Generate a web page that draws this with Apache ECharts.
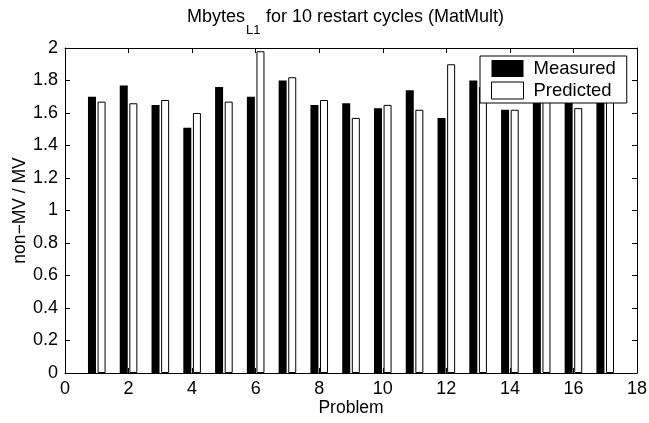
<!DOCTYPE html>
<html>
<head>
<meta charset="utf-8">
<script src="https://cdn.jsdelivr.net/npm/echarts@6/dist/echarts.min.js"></script>
<style>
  html, body { margin: 0; padding: 0; background: #fff; }
  #chart { width: 649px; height: 423px; }
</style>
</head>
<body>
<div id="chart"></div>
<script>
// values (bars 13-17 partly sit under the legend, so those are guesses)
const problems = [1, 2, 3, 4, 5, 6, 7, 8, 9, 10, 11, 12, 13, 14, 15, 16, 17];
const measured = [1.70, 1.77, 1.65, 1.51, 1.76, 1.70, 1.80, 1.65, 1.66, 1.63, 1.74, 1.57, 1.80, 1.62, 1.72, 1.78, 1.74];
const predicted = [1.67, 1.66, 1.68, 1.60, 1.67, 1.98, 1.82, 1.68, 1.57, 1.65, 1.62, 1.90, 1.76, 1.62, 1.70, 1.63, 1.71];
const seriesNames = ['Measured', 'Predicted'];

const FONT = "'Liberation Sans', Arial, Helvetica, sans-serif";

const chart = echarts.init(document.getElementById('chart'));

const pairs = (ys) => problems.map((x, i) => [x, ys[i]]);

// shared look for the box axes (ticks inside on every side)
const boxAxis = (extra) => Object.assign({
  axisLine: { show: true, onZero: false, lineStyle: { color: '#000', width: 1 } },
  axisTick: { show: true, inside: true, length: 5, lineStyle: { color: '#000', width: 1 } },
  splitLine: { show: false },
  axisLabel: { color: '#000', fontFamily: FONT, fontSize: 18 }
}, extra);

const titleStyle = (size) => ({ fontFamily: FONT, fontSize: size, fontWeight: 'normal', color: '#000' });

const option = {
  backgroundColor: '#fff',
  animation: false,
  title: [
    { text: 'Mbytes', left: 187, top: 8, padding: 0, textStyle: titleStyle(18) },
    { text: 'L1', left: 246, top: 24, padding: 0, textStyle: titleStyle(13) },
    { text: 'for 10 restart cycles (MatMult)', left: 266, top: 8, padding: 0, textStyle: titleStyle(18) }
  ],
  grid: { left: 65, right: 12, top: 48, bottom: 50, outerBoundsMode: 'none' },
  legend: {
    orient: 'vertical',
    left: 480,
    top: 56,
    padding: [3, 11, 3, 11],
    itemGap: 3,
    itemWidth: 32,
    itemHeight: 17,
    backgroundColor: '#fff',
    borderColor: '#000',
    borderWidth: 1,
    borderRadius: 0,
    selectedMode: false,
    icon: 'rect',
    textStyle: { fontFamily: FONT, fontSize: 18.5, color: '#000', lineHeight: 17, padding: [0, 0, 0, 5] },
    data: [
      { name: seriesNames[0], itemStyle: { color: '#000' } },
      { name: seriesNames[1], itemStyle: { color: '#fff', borderColor: '#000', borderWidth: 1 } }
    ]
  },
  xAxis: [
    boxAxis({
      type: 'value', min: 0, max: 18, interval: 2, position: 'bottom',
      name: 'Problem', nameLocation: 'middle', nameGap: 26, nameMoveOverlap: false,
      nameTextStyle: { fontFamily: FONT, fontSize: 17.5, color: '#000' },
      axisLabel: { color: '#000', fontFamily: FONT, fontSize: 18, margin: 7 }
    }),
    boxAxis({
      type: 'value', min: 0, max: 18, interval: 2, position: 'top',
      axisLabel: { show: false }
    })
  ],
  yAxis: [
    boxAxis({
      type: 'value', min: 0, max: 2, interval: 0.2, position: 'left',
      name: 'non\u2212MV / MV', nameLocation: 'middle', nameGap: 36, nameRotate: 90, nameMoveOverlap: false,
      nameTextStyle: { fontFamily: FONT, fontSize: 17.5, color: '#000' },
      axisLabel: { color: '#000', fontFamily: FONT, fontSize: 18, margin: 7 }
    }),
    boxAxis({
      type: 'value', min: 0, max: 2, interval: 0.2, position: 'right',
      axisLabel: { show: false }
    })
  ],
  series: [
    {
      name: seriesNames[0],
      type: 'bar',
      xAxisIndex: 0,
      yAxisIndex: 0,
      barWidth: 8,
      barGap: '20%',
      itemStyle: { color: '#000' },
      data: pairs(measured)
    },
    {
      name: seriesNames[1],
      type: 'bar',
      xAxisIndex: 0,
      yAxisIndex: 0,
      barWidth: 8,
      barGap: '20%',
      itemStyle: { color: '#fff', borderColor: '#000', borderWidth: 1 },
      data: pairs(predicted)
    }
  ]
};

chart.setOption(option);
</script>
</body>
</html>
